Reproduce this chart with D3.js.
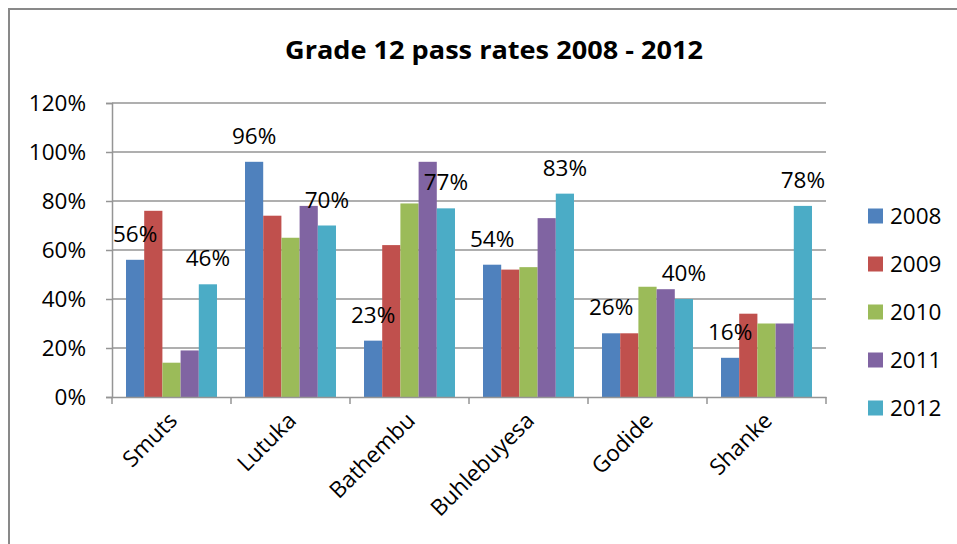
<!DOCTYPE html>
<html>
<head>
<meta charset="utf-8">
<script src="https://cdn.jsdelivr.net/npm/d3@7"></script>
<style>
  body { margin: 0; background: #fff; }
  text { font-family: 'Open Sans', sans-serif; fill: #000; }
</style>
</head>
<body>
<div id="chart"></div>
<script>
const schools = ['Smuts', 'Lutuka', 'Bathembu', 'Buhlebuyesa', 'Godide', 'Shanke'];
const years = ['2008', '2009', '2010', '2011', '2012'];
const rates2008 = [0.56, 0.96, 0.23, 0.54, 0.26, 0.16];
const rates2009 = [0.76, 0.74, 0.62, 0.52, 0.26, 0.34];
const rates2010 = [0.14, 0.65, 0.79, 0.53, 0.45, 0.30];
const rates2011 = [0.19, 0.78, 0.96, 0.73, 0.44, 0.30];
const rates2012 = [0.46, 0.70, 0.77, 0.83, 0.40, 0.78];
const labelledYears = ['2008', '2012'];
const yTicks = [0, 0.2, 0.4, 0.6, 0.8, 1.0, 1.2];

const series = [rates2008, rates2009, rates2010, rates2011, rates2012];
const colors = ['#4f81bd', '#c0504d', '#9bbb59', '#8064a2', '#4bacc6'];
const fontSize = '22.5px';

const W = 957, H = 544;
const margins = { top: 103, left: 112, right: 131, bottom: 147 };
const width = W - margins.left - margins.right;
const height = H - margins.top - margins.bottom;

const data = [];
schools.forEach((s, i) => {
  years.forEach((y, j) => {
    data.push({ school: s, year: y, value: series[j][i] });
  });
});

const svg = d3.select('#chart')
  .append('svg')
    .attr('width', W)
    .attr('height', H);

// chart border (runs off right and bottom)
svg.append('rect')
  .attr('x', 9)
  .attr('y', 9)
  .attr('width', W + 20)
  .attr('height', H + 20)
  .attr('fill', 'none')
  .attr('stroke', '#898989')
  .attr('stroke-width', 2);

svg.append('text')
  .attr('x', 285)
  .attr('y', 59)
  .attr('textLength', 418)
  .attr('lengthAdjust', 'spacingAndGlyphs')
  .style('font-size', '25px')
  .style('font-weight', 'bold')
  .text('Grade 12 pass rates 2008 - 2012');

const g = svg.append('g')
  .attr('transform', `translate(${margins.left}, ${margins.top})`);

const x0 = d3.scaleBand().domain(schools).range([0, width]);
const x1 = d3.scaleBand().domain(years).range([0, x0.bandwidth()]).paddingOuter(0.77);
const y = d3.scaleLinear().domain([0, 1.2]).range([height, 0]);

// gridlines
g.append('g')
  .selectAll('line')
  .data(yTicks.slice(1))
  .enter()
  .append('line')
    .attr('x1', 0)
    .attr('x2', width)
    .attr('y1', d => y(d))
    .attr('y2', d => y(d))
    .attr('stroke', '#959595')
    .attr('stroke-width', 1.5);

// y axis
const axisY = g.append('g')
  .call(d3.axisLeft(y).tickValues(yTicks).tickFormat(d3.format('.0%')).tickSize(6).tickPadding(20));
axisY.select('.domain').attr('stroke', '#959595').attr('stroke-width', 1.5);
axisY.selectAll('.tick line').attr('stroke', '#959595').attr('stroke-width', 1.5);
axisY.selectAll('.tick text')
  .style('font-size', fontSize)
  .style('font-family', "'Open Sans', sans-serif");

// bars
g.append('g')
  .selectAll('rect')
  .data(data)
  .enter()
  .append('rect')
    .attr('x', d => x0(d.school) + x1(d.year))
    .attr('y', d => y(d.value))
    .attr('width', x1.bandwidth())
    .attr('height', d => height - y(d.value))
    .attr('fill', (d) => colors[years.indexOf(d.year)]);

// x axis
const axisX = g.append('g')
  .attr('transform', `translate(0, ${height})`)
  .call(d3.axisBottom(x0).tickSize(0).tickFormat(''));
axisX.select('.domain').attr('stroke', '#959595').attr('stroke-width', 1.5);
axisX.selectAll('.tick').remove();

axisX.selectAll('.sep')
  .data(d3.range(schools.length + 1))
  .enter()
  .append('line')
    .attr('x1', i => i * x0.step())
    .attr('x2', i => i * x0.step())
    .attr('y1', 0)
    .attr('y2', 7)
    .attr('stroke', '#959595')
    .attr('stroke-width', 1.5);

g.append('g')
  .selectAll('text')
  .data(schools)
  .enter()
  .append('text')
    .attr('text-anchor', 'end')
    .attr('transform', d => `translate(${x0(d) + x0.bandwidth() / 2 + 7}, ${height + 25}) rotate(-45)`)
    .style('font-size', fontSize)
    .text(d => d);

// data labels
g.append('g')
  .selectAll('text')
  .data(data.filter(d => labelledYears.includes(d.year)))
  .enter()
  .append('text')
    .attr('x', d => x0(d.school) + x1(d.year) + x1.bandwidth() / 2)
    .attr('y', d => y(d.value) - 18)
    .attr('text-anchor', 'middle')
    .style('font-size', fontSize)
    .text(d => d3.format('.0%')(d.value));

// legend
const legend = svg.append('g')
  .attr('transform', 'translate(868, 216)');

const item = legend.selectAll('g')
  .data(years)
  .enter()
  .append('g')
    .attr('transform', (d, i) => `translate(0, ${i * 48})`);

item.append('rect')
  .attr('y', -7.5)
  .attr('width', 15)
  .attr('height', 15)
  .attr('fill', (d, i) => colors[i]);

item.append('text')
  .attr('x', 22)
  .attr('y', 8)
  .style('font-size', fontSize)
  .text(d => d);
</script>
</body>
</html>
